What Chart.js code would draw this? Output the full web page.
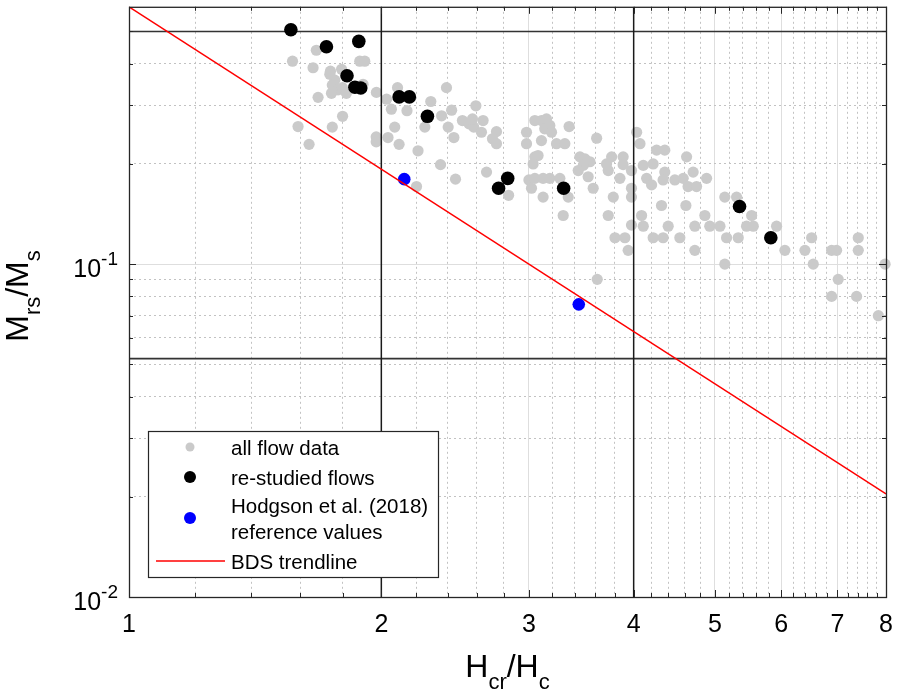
<!DOCTYPE html>
<html>
<head>
<meta charset="utf-8">
<script src="https://cdn.jsdelivr.net/npm/chart.js@4.4.1/dist/chart.umd.min.js"></script>
<style>
  body { margin: 0; background: #fff; }
  #wrap { width: 897px; height: 695px; }
</style>
</head>
<body>
<div id="wrap"><canvas id="chart" width="897" height="695"></canvas></div>
<script>
// all flow data, Hcr/Hc against Mrs/Ms
const allFlowX = [1.567, 1.673, 1.658, 1.885, 1.911, 1.739, 1.736, 1.760, 1.793, 1.748,
  1.776, 1.744, 1.797, 1.817, 1.902, 1.681, 1.798, 1.748, 1.591, 1.640,
  1.973, 2.029, 2.091, 2.056, 2.146, 2.075, 1.972, 1.972, 2.037, 2.100,
  2.212, 2.353, 2.203, 2.452, 2.670, 2.837, 2.392, 2.291, 2.360, 2.426,
  2.403, 2.441, 2.254, 2.499, 2.545, 2.578, 2.645, 2.569, 2.593, 2.744,
  2.714, 2.744, 2.633, 3.049, 3.105, 3.148, 3.177, 3.133, 3.192, 2.980,
  2.980, 3.105, 3.236, 3.311, 3.350, 3.613, 3.049, 3.076, 3.035, 3.000,
  3.049, 3.119, 3.177, 3.266, 3.021, 3.119, 3.342, 3.296, 3.451, 3.499,
  3.547, 3.483, 3.435, 3.530, 3.579, 3.713, 3.765, 3.886, 3.886, 3.730,
  3.852, 3.782, 3.730, 3.976, 3.976, 3.976, 4.033, 4.070, 4.107, 4.145,
  4.260, 4.357, 4.088, 4.107, 3.976, 3.800, 3.905, 3.940, 4.626, 4.220,
  4.357, 4.202, 4.337, 4.479, 4.583, 4.710, 4.887, 4.645, 4.754, 4.318,
  4.617, 4.864, 4.398, 4.732, 4.930, 5.070, 4.220, 4.337, 4.541, 4.732,
  5.138, 5.307, 5.531, 5.454, 5.556, 5.163, 5.331, 5.138, 5.923, 6.060,
  6.403, 6.522, 6.551, 6.890, 6.985, 7.016, 6.890, 7.379, 7.413, 7.413,
  7.980, 7.834, 3.619];
const allFlowY = [0.407, 0.439, 0.389, 0.407, 0.407, 0.380, 0.372, 0.357, 0.385, 0.345,
  0.334, 0.326, 0.339, 0.326, 0.347, 0.317, 0.278, 0.258, 0.259, 0.229,
  0.328, 0.313, 0.339, 0.292, 0.289, 0.258, 0.241, 0.233, 0.240, 0.229,
  0.219, 0.199, 0.171, 0.180, 0.189, 0.161, 0.339, 0.308, 0.279, 0.290,
  0.258, 0.240, 0.258, 0.270, 0.264, 0.258, 0.270, 0.273, 0.299, 0.250,
  0.238, 0.230, 0.249, 0.270, 0.270, 0.273, 0.261, 0.255, 0.249, 0.249,
  0.230, 0.235, 0.230, 0.230, 0.259, 0.239, 0.210, 0.212, 0.200, 0.179,
  0.181, 0.181, 0.181, 0.181, 0.169, 0.159, 0.159, 0.140, 0.210, 0.207,
  0.203, 0.198, 0.191, 0.183, 0.169, 0.200, 0.210, 0.210, 0.199, 0.191,
  0.181, 0.159, 0.140, 0.159, 0.191, 0.169, 0.249, 0.230, 0.198, 0.181,
  0.220, 0.220, 0.140, 0.130, 0.131, 0.120, 0.120, 0.110, 0.210, 0.200,
  0.189, 0.173, 0.179, 0.179, 0.181, 0.189, 0.181, 0.171, 0.171, 0.150,
  0.150, 0.140, 0.130, 0.130, 0.130, 0.130, 0.120, 0.120, 0.120, 0.110,
  0.159, 0.159, 0.140, 0.130, 0.130, 0.120, 0.120, 0.100, 0.130, 0.110,
  0.110, 0.120, 0.100, 0.110, 0.110, 0.090, 0.080, 0.080, 0.120, 0.110,
  0.100, 0.070, 0.090];

// re-studied flows
const restudiedX = [1.56, 1.72, 1.88, 1.82, 1.86, 1.89, 2.10, 2.16, 2.27, 2.76, 2.83, 3.30, 5.35, 5.83];
const restudiedY = [0.506, 0.450, 0.467, 0.368, 0.340, 0.338, 0.318, 0.318, 0.278, 0.169, 0.181, 0.169, 0.149, 0.120];

// Hodgson et al. (2018) reference values
const hodgsonX = [2.13, 3.44];
const hodgsonY = [0.180, 0.0757];

// BDS trendline end points
const trendX = [1, 8];
const trendY = [0.593, 0.0204];

// boundary lines
const boundaryX = [2, 4];
const boundaryY = [0.5, 0.052];

const xRange = [1, 8];
const yRange = [0.01, 0.593];
const xTicks = [1, 1.2, 1.4, 1.6, 1.8, 2, 2.2, 2.4, 2.6, 2.8, 3, 3.2, 3.4, 3.6, 3.8,
  4, 4.2, 4.4, 4.6, 4.8, 5, 5.2, 5.4, 5.6, 5.8, 6, 6.2, 6.4, 6.6, 6.8, 7, 7.2, 7.4, 7.6, 7.8, 8];
const yTicks = [0.01, 0.02, 0.03, 0.04, 0.05, 0.06, 0.07, 0.08, 0.09, 0.1, 0.2, 0.3, 0.4, 0.5];
const xLabelTicks = [1, 2, 3, 4, 5, 6, 7, 8];
const yLabelTicks = [0.01, 0.1];
const yLabelExp = ['-2', '-1'];

const FONT = '"Liberation Sans", Arial, Helvetica, sans-serif';
const font = size => size + 'px ' + FONT;

function isMajorX(v) { return Math.abs(v - Math.round(v)) < 1e-9; }
function isMajorY(v) { const l = Math.log10(v); return Math.abs(l - Math.round(l)) < 1e-9; }

function pts(xs, ys) { return xs.map((x, i) => ({x: x, y: ys[i]})); }

// text made of pieces of different size (sub/superscripts)
function drawRich(ctx, parts, x, y, align) {
  let w = 0;
  parts.forEach(p => { ctx.font = font(p.size); w += ctx.measureText(p.text).width; });
  let cx = align === 'center' ? x - w / 2 : (align === 'right' ? x - w : x);
  ctx.textAlign = 'left';
  ctx.textBaseline = 'alphabetic';
  parts.forEach(p => {
    ctx.font = font(p.size);
    ctx.fillText(p.text, cx, y + (p.dy || 0));
    cx += ctx.measureText(p.text).width;
  });
}

const datasets = [];
boundaryX.forEach(v => datasets.push({
  label: 'boundary', data: [{x: v, y: yRange[0]}, {x: v, y: yRange[1]}],
  showLine: true, borderColor: '#1a1a1a', borderWidth: 1.5, pointRadius: 0, order: 4
}));
boundaryY.forEach(v => datasets.push({
  label: 'boundary', data: [{x: xRange[0], y: v}, {x: xRange[1], y: v}],
  showLine: true, borderColor: '#333333', borderWidth: 1.6, pointRadius: 0, order: 4
}));
datasets.push({
  label: 'all flow data', data: pts(allFlowX, allFlowY), legend: true, legendRadius: 4.5,
  backgroundColor: '#cacaca', borderWidth: 0, pointRadius: 5.6, order: 5, clip: false
});
datasets.push({
  label: 're-studied flows', data: pts(restudiedX, restudiedY), legend: true, legendRadius: 6,
  backgroundColor: '#000000', borderWidth: 0, pointRadius: 6.8, order: 3, clip: false
});
datasets.push({
  label: ['Hodgson et al. (2018)', 'reference values'], data: pts(hodgsonX, hodgsonY), legend: true,
  legendRadius: 6, backgroundColor: '#0000ff', borderWidth: 0, pointRadius: 6.3, order: 2, clip: false
});
datasets.push({
  label: 'BDS trendline', data: pts(trendX, trendY), legend: true, showLine: true,
  borderColor: '#ff0000', borderWidth: 1.5, pointRadius: 0, order: 1
});

// box, inward ticks, tick labels, axis titles and legend
const framePlugin = {
  id: 'frame',
  afterDraw(chart) {
    const {ctx, chartArea: a, scales: {x, y}} = chart;
    ctx.save();
    ctx.strokeStyle = '#262626';
    ctx.lineWidth = 1;
    ctx.beginPath();
    x.ticks.forEach(t => {
      const px = Math.round(x.getPixelForValue(t.value)) + 0.5;
      const len = isMajorX(t.value) ? 7 : 4;
      ctx.moveTo(px, a.bottom); ctx.lineTo(px, a.bottom - len);
      ctx.moveTo(px, a.top); ctx.lineTo(px, a.top + len);
    });
    y.ticks.forEach(t => {
      const py = Math.round(y.getPixelForValue(t.value)) + 0.5;
      const len = isMajorY(t.value) ? 7 : 4;
      ctx.moveTo(a.left, py); ctx.lineTo(a.left + len, py);
      ctx.moveTo(a.right, py); ctx.lineTo(a.right - len, py);
    });
    ctx.stroke();
    ctx.lineWidth = 1.3;
    ctx.strokeRect(a.left + 0.5, a.top + 0.5, a.right - a.left, a.bottom - a.top);

    // tick labels
    ctx.fillStyle = '#000';
    xLabelTicks.forEach(v => {
      drawRich(ctx, [{text: String(v), size: 25}], x.getPixelForValue(v), a.bottom + 35, 'center');
    });
    yLabelTicks.forEach((v, i) => {
      const py = y.getPixelForValue(v);
      drawRich(ctx, [{text: '10', size: 25}, {text: yLabelExp[i], size: 19, dy: -12}], 118, py + 12.5, 'right');
    });

    // axis titles
    drawRich(ctx, [{text: 'H', size: 32}, {text: 'cr', size: 22, dy: 12},
      {text: '/H', size: 32}, {text: 'c', size: 22, dy: 12}], (a.left + a.right) / 2, 677, 'center');
    ctx.save();
    ctx.translate(28, 296);
    ctx.rotate(-Math.PI / 2);
    drawRich(ctx, [{text: 'M', size: 32}, {text: 'rs', size: 22, dy: 12},
      {text: '/M', size: 32}, {text: 's', size: 22, dy: 12}], 0, 0, 'center');
    ctx.restore();

    // legend
    const box = {l: 148, t: 431, r: 438, b: 577};
    ctx.fillStyle = '#fff';
    ctx.fillRect(box.l, box.t, box.r - box.l, box.b - box.t);
    ctx.strokeStyle = '#262626';
    ctx.lineWidth = 1.2;
    ctx.strokeRect(box.l + 0.5, box.t + 0.5, box.r - box.l, box.b - box.t);
    const rows = [447, 477, 518, 561];
    const items = chart.data.datasets.filter(d => d.legend);
    items.forEach((d, i) => {
      const cy = rows[i];
      if (d.showLine) {
        ctx.strokeStyle = d.borderColor;
        ctx.lineWidth = 1.5;
        ctx.beginPath(); ctx.moveTo(156, cy); ctx.lineTo(225, cy); ctx.stroke();
      } else {
        ctx.fillStyle = d.backgroundColor;
        ctx.beginPath(); ctx.arc(190, cy, d.legendRadius, 0, Math.PI * 2); ctx.fill();
      }
      ctx.fillStyle = '#000';
      const lines = Array.isArray(d.label) ? d.label : [d.label];
      const base = cy + 8 - (lines.length - 1) * 13;
      lines.forEach((s, k) => drawRich(ctx, [{text: s, size: 20.5}], 231, base + k * 26, 'left'));
    });
    ctx.restore();
  }
};

const bgPlugin = {
  id: 'bg',
  beforeDraw(chart) {
    const ctx = chart.ctx;
    ctx.save(); ctx.fillStyle = '#fff'; ctx.fillRect(0, 0, chart.width, chart.height); ctx.restore();
  }
};

new Chart(document.getElementById('chart'), {
  type: 'scatter',
  data: {datasets: datasets},
  plugins: [bgPlugin, framePlugin],
  options: {
    responsive: false,
    animation: false,
    layout: {padding: {top: 2, right: 11, left: 0, bottom: 0}},
    plugins: {legend: {display: false}, tooltip: {enabled: false}},
    scales: {
      x: {
        type: 'logarithmic', min: xRange[0], max: xRange[1], bounds: 'data',
        afterBuildTicks: s => { s.ticks = xTicks.map(v => ({value: v})); },
        afterFit: s => { s.height = 98; },
        ticks: {display: false},
        grid: {
          drawTicks: false,
          lineWidth: 1,
          color: c => (c.tick && isMajorX(c.tick.value)) ? '#dedede' : '#c2c2c2'
        },
        border: {display: false, dash: c => (c.tick && isMajorX(c.tick.value)) ? [] : [2, 3]}
      },
      y: {
        type: 'logarithmic', min: yRange[0], max: yRange[1], bounds: 'data',
        afterBuildTicks: s => { s.ticks = yTicks.map(v => ({value: v})); },
        afterFit: s => { s.width = 129; },
        ticks: {display: false},
        grid: {
          drawTicks: false,
          lineWidth: 1,
          color: c => (c.tick && isMajorY(c.tick.value)) ? '#dedede' : '#c2c2c2'
        },
        border: {display: false, dash: c => (c.tick && isMajorY(c.tick.value)) ? [] : [2, 3]}
      }
    }
  }
});
</script>
</body>
</html>
